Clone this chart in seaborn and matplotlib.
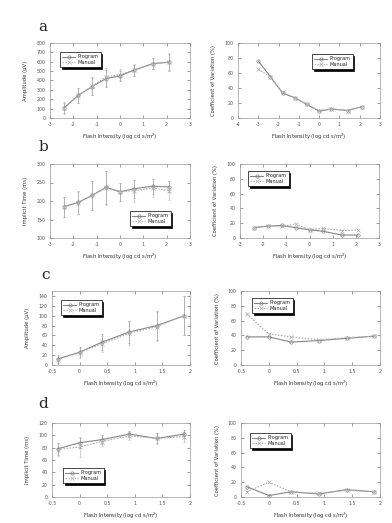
import pandas as pd
import matplotlib
matplotlib.use("Agg")
import matplotlib.pyplot as plt
import seaborn as sns

# --- data ---
x_a = [-2.4, -1.8, -1.2, -0.6, 0, 0.6, 1.4, 2.1]
x_a_cv = [-3, -2.4, -1.8, -1.2, -0.6, 0, 0.6, 1.4, 2.1]
x_c = [-0.4, 0, 0.4, 0.9, 1.4, 1.9]

a_amp_prog = [108, 240, 335, 420, 450, 510, 580, 595]
a_amp_prog_err = [55, 75, 90, 90, 55, 60, 55, 90]
a_amp_man = [108, 238, 338, 440, 462, 512, 578, 598]
a_amp_man_err = [60, 80, 95, 95, 60, 60, 60, 90]
a_cv_prog = [76, 55, 33, 27, 18, 9, 12, 10, 15]
a_cv_man = [65, 55, 34, 27, 18, 10, 12, 10, 15]

b_it_prog = [185, 196, 215, 237, 225, 233, 240, 238]
b_it_prog_err = [27, 30, 38, 45, 25, 25, 20, 15]
b_it_man = [184, 195, 215, 235, 225, 228, 235, 228]
b_it_man_err = [27, 30, 40, 45, 25, 30, 25, 25]
b_cv_prog = [14, 16, 17, 14, 11, 9, 4, 4]
b_cv_man = [14, 16, 16, 19, 11, 13, 10, 11]

c_amp_prog = [12, 26, 46, 67, 80, 100]
c_amp_prog_err = [8, 10, 16, 23, 30, 40]
c_amp_man = [11, 25, 43, 64, 78, 100]
c_amp_man_err = [8, 10, 16, 23, 30, 40]
c_cv_prog = [38, 38, 31, 33, 36, 39]
c_cv_man = [69, 42, 38, 34, 37, 39]

d_it_prog = [78, 88, 93, 102, 95, 102]
d_it_prog_err = [10, 8, 7, 5, 8, 7]
d_it_man = [77, 81, 90, 99, 95, 98]
d_it_man_err = [10, 16, 8, 6, 9, 8]
d_cv_prog = [14, 2, 7, 4, 10, 7]
d_cv_man = [7, 20, 7, 5, 9, 7]

XLAB = 'Flash Intensity (log cd s/m$^2$)'
W, H = 392, 523

sns.set_style("ticks")
plt.rcParams['font.family'] = ['DejaVu Sans']
fig = plt.figure(figsize=(W / 100, H / 100), dpi=100)

col_p = '#858585'
col_m = '#b0b0b0'


def box(l, t, r, b):
    return [l / W, 1 - b / H, (r - l) / W, (b - t) / H]


def panel(rect, x, prog, man, ylab, ylim, yticks, xlim, xticks, leg_xy,
          prog_err=None, man_err=None):
    ax = fig.add_axes(box(*rect))
    dfp = pd.DataFrame({'x': x, 'y': prog})
    dfm = pd.DataFrame({'x': x, 'y': man})
    if prog_err is not None:
        ax.errorbar(x, prog, yerr=prog_err, fmt='none', ecolor=col_p,
                    elinewidth=0.4, capsize=1.0, capthick=0.4)
        ax.errorbar(x, man, yerr=man_err, fmt='none', ecolor=col_m,
                    elinewidth=0.4, capsize=1.0, capthick=0.4)
    sns.lineplot(data=dfp, x='x', y='y', ax=ax, color=col_p, sort=False,
                 marker='o', linewidth=0.8, markersize=2.4,
                 markerfacecolor='none', markeredgecolor=col_p,
                 markeredgewidth=0.5, label='Program')
    sns.lineplot(data=dfm, x='x', y='y', ax=ax, color=col_m, sort=False,
                 marker='x', linestyle=(0, (1.5, 1.2)), linewidth=0.8,
                 markersize=2.4, markeredgecolor=col_m, markeredgewidth=0.5,
                 label='Manual')
    ax.set_xlim(*xlim)
    ax.set_ylim(*ylim)
    ax.set_xticks(xticks)
    ax.set_yticks(yticks)
    ax.set_xticklabels([('%g' % v) for v in xticks])
    ax.set_xlabel(XLAB, fontsize=3.8, labelpad=3.5, color='#333333')
    ax.set_ylabel(ylab, fontsize=3.8, labelpad=6, color='#333333')
    ax.tick_params(direction='in', top=True, right=True, length=2,
                   width=0.4, labelsize=3.4, pad=3, colors='#555555')
    for s in ax.spines.values():
        s.set_linewidth(0.5)
        s.set_color('#999999')
    lx, ly = leg_xy
    leg = ax.legend(loc='upper left', bbox_to_anchor=(lx / W, 1 - ly / H),
                    bbox_transform=fig.transFigure, fontsize=3.6,
                    frameon=True, fancybox=False,
                    shadow={'color': 'black', 'alpha': 1, 'ox': 1.3, 'oy': -1.3},
                    handlelength=2.6, borderpad=0.45, labelspacing=0.15,
                    handletextpad=0.4, borderaxespad=0)
    leg.get_frame().set_edgecolor('black')
    leg.get_frame().set_linewidth(0.5)
    return ax


xt3 = [-3, -2, -1, 0, 1, 2, 3]
xtc = [-0.5, 0, 0.5, 1, 1.5, 2]

panel((50, 43, 190, 118), x_a, a_amp_prog, a_amp_man, 'Amplitude (μV)',
      (0, 800), range(0, 801, 100), (-3, 3), xt3, (60, 52),
      a_amp_prog_err, a_amp_man_err)
panel((238, 43, 380, 118), x_a_cv, a_cv_prog, a_cv_man,
      'Coefficient of Variation (%)', (0, 100), range(0, 101, 20),
      (-4, 3), [-4, -3, -2, -1, 0, 1, 2, 3], (312, 54))

panel((50, 164, 190, 238), x_a, b_it_prog, b_it_man, 'Implicit Time (ms)',
      (100, 300), range(100, 301, 50), (-3, 3), xt3, (130, 211),
      b_it_prog_err, b_it_man_err)
panel((240, 164, 379, 238), x_a, b_cv_prog, b_cv_man,
      'Coefficient of Variation (%)', (0, 100), range(0, 101, 20),
      (-3, 3), xt3, (248, 171))

panel((52, 291, 190, 365), x_c, c_amp_prog, c_amp_man, 'Amplitude (μV)',
      (0, 150), range(0, 141, 20), (-0.5, 2), xtc, (61, 300),
      c_amp_prog_err, c_amp_man_err)
panel((241, 291, 380, 365), x_c, c_cv_prog, c_cv_man,
      'Coefficient of Variation (%)', (0, 100), range(0, 101, 20),
      (-0.5, 2), xtc, (252, 298))

panel((52, 423, 190, 497), x_c, d_it_prog, d_it_man, 'Implicit Time (ms)',
      (0, 120), range(0, 121, 20), (-0.5, 2), xtc, (63, 468),
      d_it_prog_err, d_it_man_err)
panel((241, 423, 380, 497), x_c, d_cv_prog, d_cv_man,
      'Coefficient of Variation (%)', (0, 100), range(0, 101, 20),
      (-0.5, 2), xtc, (250, 433))

for letter, (px, py) in zip('abcd', [(43, 27), (43, 147), (46, 275), (43, 404)]):
    fig.text(px / W, 1 - py / H, letter, fontsize=11, family='serif',
             ha='center', va='center')

fig.savefig('out.png', dpi=100)
